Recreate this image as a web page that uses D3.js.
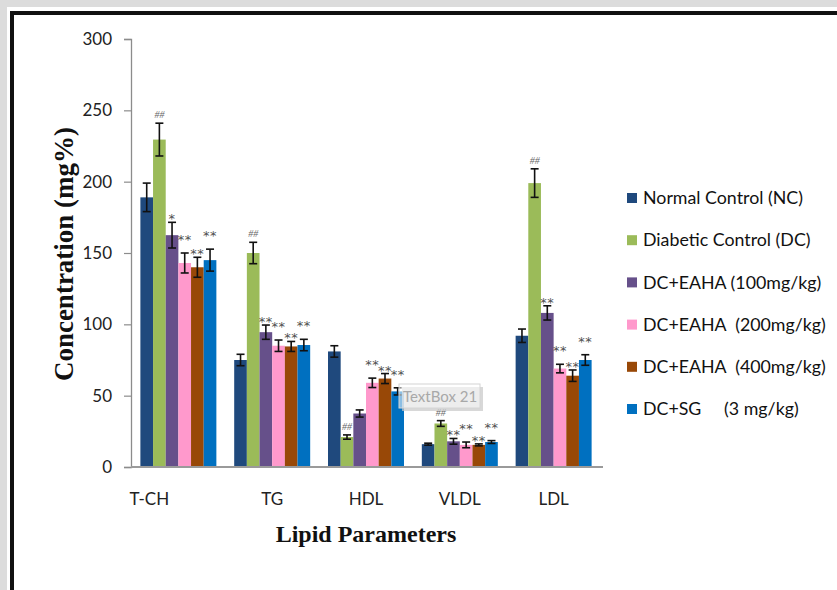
<!DOCTYPE html>
<html>
<head>
<meta charset="utf-8">
<script src="https://cdn.jsdelivr.net/npm/d3@7"></script>
<style>
  html, body { margin: 0; padding: 0; background: #dcdcdc; }
  svg { display: block; }
  text { white-space: pre; }
</style>
</head>
<body>
<svg id="chart" width="837" height="590"></svg>
<script>
// ---------- data ----------
const categories = ["T-CH", "TG", "HDL", "VLDL", "LDL"];
const seriesNames = [
  "Normal Control (NC)",
  "Diabetic Control (DC)",
  "DC+EAHA (100mg/kg)",
  "DC+EAHA  (200mg/kg)",
  "DC+EAHA  (400mg/kg)",
  "DC+SG     (3 mg/kg)"
];
const seriesColors = ["#1F497D", "#9BBB59", "#66508A", "#FF99CC", "#984807", "#0070C0"];

const valNC      = [189,   75,   81,   16,   92];
const valDC      = [229.5, 150,  21,   30.5, 199];
const valEAHA100 = [162.5, 94.5, 37.5, 18,   108];
const valEAHA200 = [143,   85,   59,   15.5, 69];
const valEAHA400 = [140,   84.5, 62,   15.5, 64];
const valSG      = [145,   85.5, 53,   17.5, 75];

const errNC      = [10,   4,   4,   0.7, 4.7];
const errDC      = [11.5, 7.5, 1.5, 2,   10];
const errEAHA100 = [9,    5,   2.5, 2,   5];
const errEAHA200 = [7,    4,   3.3, 2,   3];
const errEAHA400 = [7,    3.5, 3.5, 0.7, 4];
const errSG      = [7.7,  4,   2.5, 1,   3.7];

// significance marks per series, per category
const sigNC      = ["",   "",   "",   "",   ""];
const sigDC      = ["##", "##", "##", "##", "##"];
const sigEAHA100 = ["*",  "**", "",   "**", "**"];
const sigEAHA200 = ["**", "**", "**", "**", "**"];
const sigEAHA400 = ["**", "**", "**", "**", "**"];
const sigSG      = ["**", "**", "**", "**", "**"];

const yTicks = [0, 50, 100, 150, 200, 250, 300];
const yTitle = "Concentration (mg%)";
const xTitle = "Lipid Parameters";
const textBoxLabel = "TextBox 21";

// ---------- build ----------
const values = [valNC, valDC, valEAHA100, valEAHA200, valEAHA400, valSG];
const errors = [errNC, errDC, errEAHA100, errEAHA200, errEAHA400, errSG];
const sigs   = [sigNC, sigDC, sigEAHA100, sigEAHA200, sigEAHA400, sigSG];
const keys = seriesNames.map((d, i) => i);

const rows = [];
categories.forEach((c, ci) => {
  keys.forEach(k => {
    rows.push({cat: c, ci, k, v: values[k][ci], e: errors[k][ci], s: sigs[k][ci]});
  });
});

const svg = d3.select("#chart");

// frame
svg.append("rect").attr("x", 0).attr("y", 0).attr("width", 837).attr("height", 590).attr("fill", "#dcdcdc");
svg.append("rect").attr("x", 7).attr("y", 7).attr("width", 830).attr("height", 583).attr("fill", "#ffffff");
svg.append("rect").attr("x", 10).attr("y", 11).attr("width", 827).attr("height", 4).attr("fill", "#111");
svg.append("rect").attr("x", 10).attr("y", 11).attr("width", 4).attr("height", 579).attr("fill", "#111");

const x0 = d3.scaleBand().domain(categories).range([131, 601]).paddingInner(0.19).paddingOuter(0.1);
const x1 = d3.scaleBand().domain(keys).range([0, x0.bandwidth()]);
const y = d3.scaleLinear().domain([0, 300]).range([467, 39]);

// y axis
const yAxis = svg.append("g").attr("transform", "translate(131,0)")
  .call(d3.axisLeft(y).tickValues(yTicks).tickSize(7).tickPadding(12));
yAxis.select(".domain").attr("stroke", "#8c8c8c").attr("stroke-width", 1.3);
yAxis.selectAll(".tick line").attr("stroke", "#8c8c8c").attr("stroke-width", 1.2);
yAxis.selectAll(".tick text").attr("font-family", "Lato, sans-serif").attr("font-size", 17).attr("fill", "#222");

// bars
svg.append("g").selectAll("rect").data(rows).join("rect")
  .attr("x", d => x0(d.cat) + x1(d.k))
  .attr("y", d => y(d.v))
  .attr("width", x1.bandwidth())
  .attr("height", d => y(0) - y(d.v))
  .attr("fill", d => seriesColors[d.k]);

// x axis line
svg.append("line").attr("x1", 131).attr("x2", 603).attr("y1", y(0)).attr("y2", y(0))
  .attr("stroke", "#9a9a9a").attr("stroke-width", 2);

// error bars
const eb = svg.append("g").attr("stroke", "#111").attr("stroke-width", 1.6);
rows.forEach(d => {
  const cx = x0(d.cat) + x1(d.k) + x1.bandwidth() / 2;
  const yt = y(d.v + d.e), yb = y(d.v - d.e);
  eb.append("line").attr("x1", cx).attr("x2", cx).attr("y1", yt).attr("y2", yb);
  eb.append("line").attr("x1", cx - 4).attr("x2", cx + 4).attr("y1", yt).attr("y2", yt);
  eb.append("line").attr("x1", cx - 4).attr("x2", cx + 4).attr("y1", yb).attr("y2", yb);
});

// significance marks (neighbouring marks staggered vertically, as in the original)
svg.append("g").selectAll("text").data(rows.filter(d => d.s)).join("text")
  .attr("x", d => x0(d.cat) + x1(d.k) + x1.bandwidth() / 2)
  .attr("y", d => d.s === "##" ? y(d.v + d.e) - 5 : y(d.v + d.e) + 1 - (d.k % 2 === 1 ? 10 : 0))
  .attr("text-anchor", "middle")
  .attr("font-family", d => d.s === "##" ? "Liberation Serif, serif" : "DejaVu Sans, sans-serif")
  .attr("font-style", d => d.s === "##" ? "italic" : "normal")
  .attr("font-size", d => d.s === "##" ? 10 : 13)
  .attr("letter-spacing", d => d.s === "##" ? 0 : 0.5)
  .attr("fill", d => d.s === "##" ? "#666" : "#505050")
  .text(d => d.s);

// category labels
svg.append("g").selectAll("text").data(categories).join("text")
  .attr("x", (c, i) => i === 0 ? x0(c) + 9 : x0(c) + x0.bandwidth() / 2)
  .attr("y", 505)
  .attr("text-anchor", "middle")
  .attr("font-family", "Lato, sans-serif").attr("font-size", 17).attr("fill", "#222")
  .text(c => c);

// axis titles
svg.append("text").attr("x", 366).attr("y", 542).attr("text-anchor", "middle")
  .attr("font-family", "Liberation Serif, serif").attr("font-weight", "bold").attr("font-size", 24)
  .attr("fill", "#111").text(xTitle);
svg.append("text").attr("transform", "translate(73,254) rotate(-90)").attr("text-anchor", "middle")
  .attr("font-family", "Liberation Serif, serif").attr("font-weight", "bold").attr("font-size", 27)
  .attr("fill", "#111").text(yTitle);

// legend
const lg = svg.append("g");
seriesNames.forEach((name, i) => {
  const cy = 198 + i * 42.2;
  lg.append("rect").attr("x", 627).attr("y", cy - 5).attr("width", 10).attr("height", 10).attr("fill", seriesColors[i]);
  lg.append("text").attr("x", 643).attr("y", cy).attr("dy", "0.35em")
    .attr("font-family", "Lato, sans-serif").attr("font-size", 17.8).attr("fill", "#111")
    .attr("xml:space", "preserve").text(name);
});

// text box overlay
const tb = svg.append("g");
tb.append("rect").attr("x", 402).attr("y", 387).attr("width", 81).attr("height", 24).attr("fill", "#c8c8c8").attr("opacity", 0.7);
tb.append("rect").attr("x", 399).attr("y", 384).attr("width", 81).attr("height", 24)
  .attr("fill", "#ffffff").attr("fill-opacity", 0.55).attr("stroke", "#d4d4d4").attr("stroke-width", 1);
tb.append("text").attr("x", 403).attr("y", 402)
  .attr("font-family", "Lato, sans-serif").attr("font-size", 15).attr("fill", "#a8a8a8").text(textBoxLabel);
</script>
</body>
</html>
